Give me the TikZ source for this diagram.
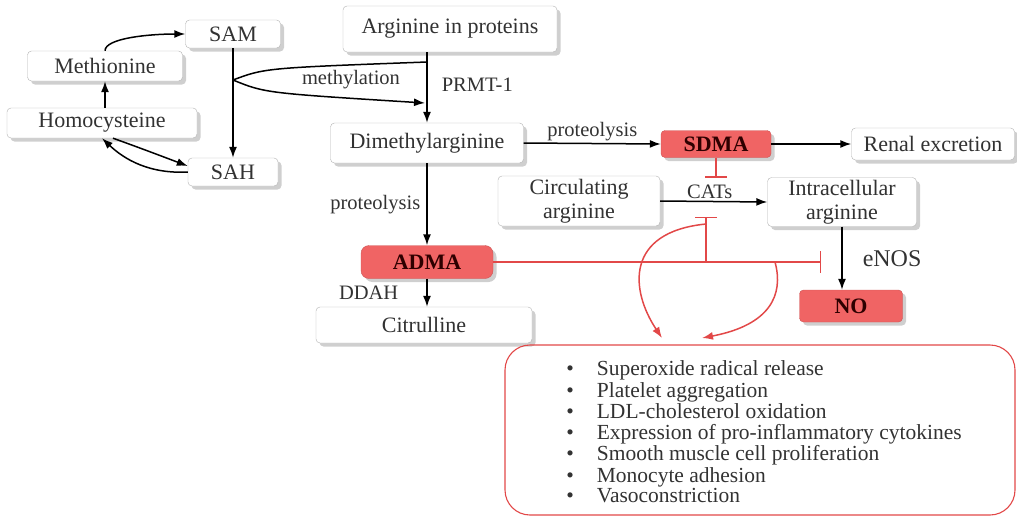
\documentclass[tikz,border=0pt]{standalone}
\usepackage{fontspec}
\setmainfont{Liberation Serif}
\usetikzlibrary{arrows.meta, shadows}
\definecolor{boxred}{RGB}{240,100,100}
\definecolor{inhred}{RGB}{226,72,72}
\definecolor{txtgray}{RGB}{50,50,50}

\begin{document}
\begin{tikzpicture}[x=1pt, y=-1pt,
        box/.style={draw=gray!60, fill=white, rounded corners=4pt, inner sep=0pt,
            drop shadow={shadow xshift=3.5pt, shadow yshift=-3.5pt, fill=gray!75},
            text=txtgray, align=center, font=\fontsize{22}{24}\selectfont},
        redbox/.style={box, fill=boxred, draw=boxred!85!black, text=black!70!red!60!black,
            font=\bfseries\fontsize{22}{24}\selectfont},
        lbl/.style={text=txtgray, inner sep=2pt, font=\fontsize{20.5}{23}\selectfont},
        arr/.style={-{Latex[length=11pt,width=8pt]}, line width=1.5pt},
        inh/.style={-{Bar[width=22pt]}, inhred, line width=1.3pt},
        redarr/.style={-{Latex[length=11pt,width=8pt]}, inhred, line width=1.5pt}]
    \useasboundingbox (0,0) rectangle (1017,520);

    % methionine cycle
    \node[box, minimum width=95, minimum height=28] (sam) at (233,34) {SAM};
    \node[box, minimum width=155, minimum height=30] (met) at (105,66) {Methionine};
    \node[box, minimum width=190, minimum height=30] (hcy) at (102,123) {Homocysteine};
    \node[box, minimum width=90, minimum height=28] (sah) at (233,172) {SAH};

    % arginine pathway
    \node[box, minimum width=214, minimum height=46] (argp) at (450,29) {Arginine in proteins};
    \node[box, minimum width=193, minimum height=40] (dma) at (427,143) {Dimethylarginine};
    \node[redbox, minimum width=110, minimum height=27] (sdma) at (716,144) {SDMA};
    \node[box, minimum width=163, minimum height=32] (renal) at (933,144) {Renal excretion};
    \node[box, minimum width=162, minimum height=50] (circ) at (579,201) {Circulating\\arginine};
    \node[box, minimum width=149, minimum height=49] (intra) at (842,202) {Intracellular\\arginine};
    \node[redbox, minimum width=132, minimum height=33, rounded corners=8pt] (adma) at (427,262) {ADMA};
    \node[redbox, minimum width=103, minimum height=32] (no) at (851,306) {NO};
    \node[box, minimum width=216, minimum height=36] (cit) at (424,325) {Citrulline};

    % effects box
    \node[draw=inhred, line width=1.1pt, rounded corners=25pt, minimum width=510, minimum height=170] (effects) at (760,430) {};
    \node[text=txtgray, font=\fontsize{21.5}{20.7}\selectfont, align=left] (efflist) at (764,435) {%
        \begin{tabular}{@{}l@{\hspace{23pt}}l@{}}
            \textbullet & Superoxide radical release\\
            \textbullet & Platelet aggregation\\
            \textbullet & LDL-cholesterol oxidation\\
            \textbullet & Expression of pro-inflammatory cytokines\\
            \textbullet & Smooth muscle cell proliferation\\
            \textbullet & Monocyte adhesion\\
            \textbullet & Vasoconstriction
        \end{tabular}};

    % methionine cycle arrows
    \draw[arr] (met.north) .. controls (105,38) and (150,34) .. (sam.west);
    \draw[arr] (hcy.north -| met.south) -- (met.south);
    \draw[arr] (sam.south) -- (sah.north);
    \draw[arr] ([xshift=11pt]hcy.south) .. controls (140,148) .. ([yshift=6pt]sah.west);
    \draw[arr] (sah.west) .. controls (150,174) and (125,160) .. (hcy.south);

    % methylation
    \coordinate (mth) at (233,80);
    \coordinate (mtop) at (427,62);
    \coordinate (mbot) at (425,103);
    \draw[line width=1.5pt] (mth) .. controls (265,68) .. (mtop);
    \draw[arr] (mth) .. controls (265,93) .. (mbot);
    \node[lbl] (lmeth) at (351,80) {methylation};

    % main arrows
    \draw[arr] (argp.south -| dma.north) -- node[lbl, right=12pt, yshift=3pt] (lprmt) {PRMT-1} (dma.north);
    \draw[arr] (dma.east) -- node[lbl, above] (lprot1) {proteolysis} (sdma.west);
    \draw[arr] (sdma.east) -- (renal.west);
    \draw[arr] (circ.east) -- node[lbl, above, xshift=-4pt] (lcats) {CATs} (intra.west);
    \draw[arr] (dma.south) -- node[lbl, left=4pt] (lprot2) {proteolysis} (adma.north);
    \draw[arr] (adma.south) -- node[lbl, left=26pt] (lddah) {DDAH} (adma.south |- cit.north);
    \draw[arr] (intra.south) -- node[lbl, right=18pt, font=\fontsize{24}{28}\selectfont] (lenos) {eNOS} (intra.south |- no.north);

    % inhibition
    \draw[inh] (sdma.south) -- ++(0,20);
    \coordinate (abr) at (706,262);
    \coordinate (aend) at (821,262);
    \draw[inh] (adma.east) -- (aend);
    \draw[inh] (abr) -- (706,217);

    % effects arrows
    \coordinate (c1) at (706,224);
    \coordinate (c2) at (775,262);
    \draw[redarr] (c1) .. controls (625,232) and (630,290) .. (662,338);
    \draw[redarr] (c2) .. controls (784,295) and (770,325) .. (702,338);
\end{tikzpicture}
\end{document}
